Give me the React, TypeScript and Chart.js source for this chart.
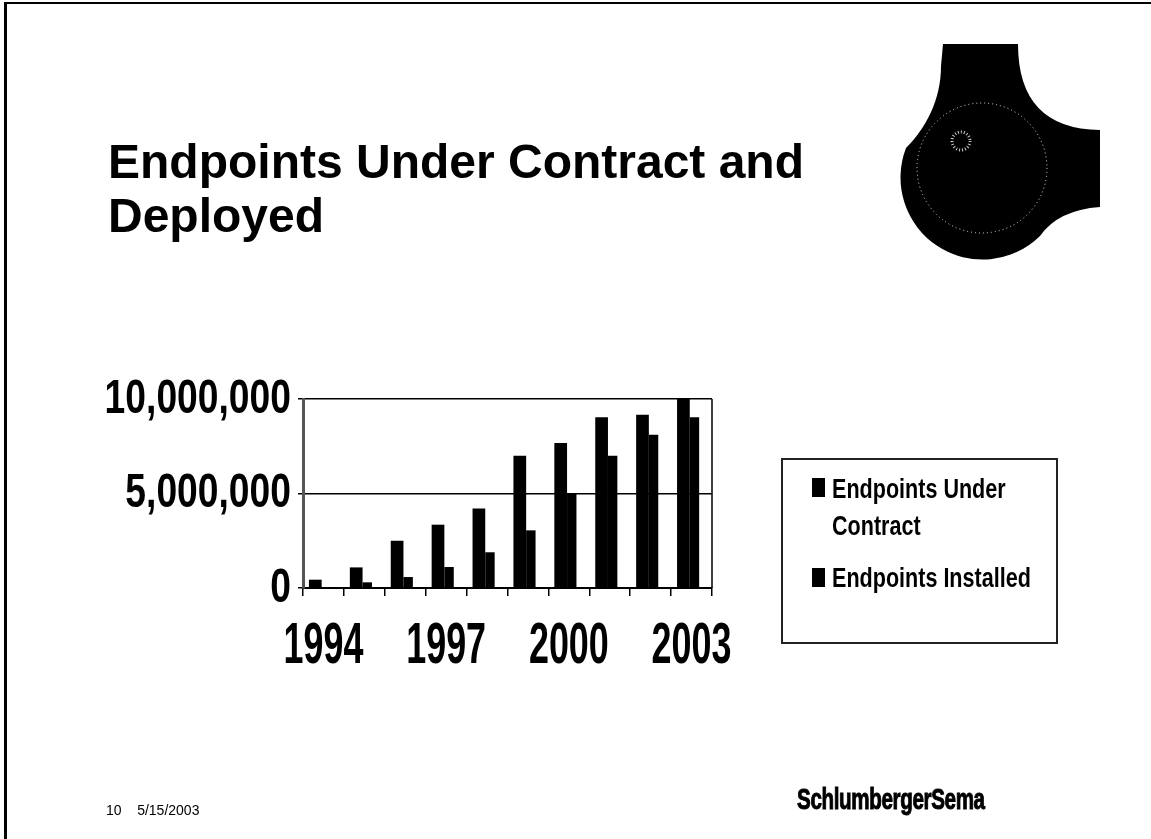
import React, { useEffect, useRef } from "react";
import { Chart, registerables, CategoryScale, LinearScale } from "chart.js";

Chart.register(...registerables);

const years = ["1994", "1995", "1996", "1997", "1998", "1999", "2000", "2001", "2002", "2003"];
const shownYears = ["1994", "1997", "2000", "2003"];
const underContract = [440000, 1090000, 2500000, 3350000, 4200000, 7000000, 7670000, 9030000, 9170000, 10000000];
const installed = [50000, 300000, 580000, 1110000, 1890000, 3050000, 5000000, 7000000, 8110000, 9030000];
const yTicks = [0, 5000000, 10000000];
const seriesNames = ["Endpoints Under Contract", "Endpoints Installed"];
const legendLines = [["Endpoints Under", "Contract"], ["Endpoints Installed"]];
const titleLines = ["Endpoints Under Contract and", "Deployed"];

const ARIAL = "'Liberation Sans', Arial, sans-serif";
const X_SQUEEZE = 0.63;
const Y_SQUEEZE = 0.76;

// Narrow the tick labels horizontally (the original uses a condensed face)
function squeeze(scale: any, items: any[], sx: number) {
  const ctx = scale.ctx;
  for (const it of items) {
    const text = String(it.label ?? "");
    if (!text) continue;
    ctx.save();
    ctx.font = it.font.string;
    const w = ctx.measureText(text).width;
    ctx.restore();
    it.options.maxWidth = w * sx;
  }
  return items;
}

class NarrowCategoryScale extends (CategoryScale as any) {
  static id = "narrowCategory";
  getLabelItems(chartArea: any) {
    return squeeze(this, super.getLabelItems(chartArea), X_SQUEEZE);
  }
}
class NarrowLinearScale extends (LinearScale as any) {
  static id = "narrowLinear";
  getLabelItems(chartArea: any) {
    return squeeze(this, super.getLabelItems(chartArea), Y_SQUEEZE);
  }
}
Chart.register(NarrowCategoryScale as any, NarrowLinearScale as any);

const framePlugin = {
  id: "frame",
  afterDatasetsDraw(chart: any) {
    const { ctx, chartArea } = chart;
    ctx.save();
    ctx.strokeStyle = "#000";
    ctx.lineWidth = 1.5;
    ctx.beginPath();
    ctx.moveTo(chartArea.right, chartArea.top);
    ctx.lineTo(chartArea.right, chartArea.bottom);
    ctx.stroke();
    ctx.restore();
  },
};

export default function App() {
  const ref = useRef<HTMLCanvasElement | null>(null);

  useEffect(() => {
    document.body.style.margin = "0";
    const canvas = ref.current;
    if (!canvas) return;
    const chart = new Chart(canvas, {
      type: "bar",
      data: {
        labels: years,
        datasets: [
          {
            label: seriesNames[0],
            data: underContract,
            backgroundColor: "#000",
            borderWidth: 0,
            categoryPercentage: 0.797,
            barPercentage: 0.78,
          },
          {
            label: seriesNames[1],
            data: installed,
            backgroundColor: "#000",
            borderWidth: 0,
            categoryPercentage: 0.284,
            barPercentage: 1.62,
          },
        ],
      },
      options: {
        animation: false,
        responsive: false,
        devicePixelRatio: 1,
        layout: { padding: { left: 0, top: 399, right: 439, bottom: 151 } },
        plugins: {
          legend: { display: false },
          tooltip: { enabled: false },
          title: { display: false },
        },
        scales: {
          x: {
            type: "narrowCategory",
            offset: true,
            grid: {
              display: true,
              drawOnChartArea: false,
              drawTicks: true,
              tickLength: 8,
              color: "#000",
              lineWidth: 1.5,
              offset: true,
            },
            border: { display: true, color: "#000", width: 2 },
            ticks: {
              autoSkip: false,
              maxRotation: 0,
              minRotation: 0,
              padding: 17,
              color: "#000",
              font: { family: ARIAL, size: 57, weight: "bold" },
              callback: (_v: any, i: number) => (shownYears.includes(years[i]) ? years[i] : ""),
            },
            afterFit: (s: any) => {
              s.height = 100;
            },
          },
          y: {
            type: "narrowLinear",
            min: 0,
            max: 10000000,
            afterBuildTicks: (s: any) => {
              s.ticks = yTicks.map((v) => ({ value: v }));
            },
            grid: { color: "#000", lineWidth: 1.5, tickLength: 5, drawTicks: true },
            border: { display: true, color: "#555", width: 3 },
            ticks: {
              padding: 7,
              color: "#000",
              font: { family: ARIAL, size: 49, weight: "bold" },
              callback: (v: any) => Number(v).toLocaleString("en-US"),
            },
            afterFit: (s: any) => {
              s.width = 303;
            },
          },
        },
      } as any,
      plugins: [framePlugin],
    });
    return () => chart.destroy();
  }, []);

  return (
    <div
      style={{
        position: "fixed",
        left: 0,
        top: 0,
        width: 1151,
        height: 839,
        overflow: "hidden",
        background: "#fff",
      }}
    >
      <div
        style={{
          position: "absolute",
          left: 4,
          top: 2,
          width: 1200,
          height: 900,
          borderTop: "2px solid #000",
          borderLeft: "3px solid #000",
        }}
      />
      <canvas ref={ref} width={1151} height={839} style={{ position: "absolute", left: 0, top: 0, width: 1151, height: 839 }} />

      <div
        style={{
          position: "absolute",
          left: 108,
          top: 135,
          fontFamily: ARIAL,
          fontWeight: "bold",
          fontSize: 48,
          lineHeight: "54px",
          color: "#000",
          whiteSpace: "nowrap",
        }}
      >
        {titleLines.map((t, i) => (
          <div key={i}>{t}</div>
        ))}
      </div>

      <svg width={1151} height={839} style={{ position: "absolute", left: 0, top: 0, pointerEvents: "none" }}>
        <path
          d="M 943 44 L 1018 44 Q 1018 129 1100 130 L 1100 207 Q 1058 210 1040 236 A 82 82 0 0 1 906 148 C 926 128 941 100 941 66 Z"
          fill="#000"
        />
        <circle cx={982} cy={168} r={65} fill="none" stroke="#ddd" strokeWidth={1} strokeDasharray="1 3" />
        <circle cx={961} cy={141} r={9} fill="none" stroke="#ccc" strokeWidth={3} strokeDasharray="1 2" />
      </svg>

      <div
        style={{
          position: "absolute",
          left: 781,
          top: 458,
          width: 277,
          height: 186,
          border: "2px solid #222",
          boxSizing: "border-box",
        }}
      />
      {legendLines.map((lines, k) => (
        <React.Fragment key={k}>
          <div
            style={{
              position: "absolute",
              left: 812,
              top: k === 0 ? 478 : 568,
              width: 13,
              height: 19,
              background: "#000",
            }}
          />
          <div
            style={{
              position: "absolute",
              left: 832,
              top: k === 0 ? 470 : 559,
              fontFamily: ARIAL,
              fontWeight: "bold",
              fontSize: 28,
              lineHeight: "37px",
              color: "#000",
              whiteSpace: "nowrap",
              transform: "scaleX(0.77)",
              transformOrigin: "0 0",
            }}
          >
            {lines.map((l, j) => (
              <div key={j}>{l}</div>
            ))}
          </div>
        </React.Fragment>
      ))}

      <div
        style={{
          position: "absolute",
          left: 106,
          top: 802,
          fontFamily: ARIAL,
          fontSize: 14,
          lineHeight: "16px",
          color: "#000",
          whiteSpace: "pre",
        }}
      >
        {"10    5/15/2003"}
      </div>
      <div
        style={{
          position: "absolute",
          left: 797,
          top: 784,
          fontFamily: ARIAL,
          fontWeight: "bold",
          fontSize: 29,
          lineHeight: "30px",
          color: "#000",
          whiteSpace: "nowrap",
          transform: "scaleX(0.71)",
          transformOrigin: "0 0",
          WebkitTextStroke: "1px #000",
          letterSpacing: "-0.5px",
        }}
      >
        SchlumbergerSema
      </div>
    </div>
  );
}
